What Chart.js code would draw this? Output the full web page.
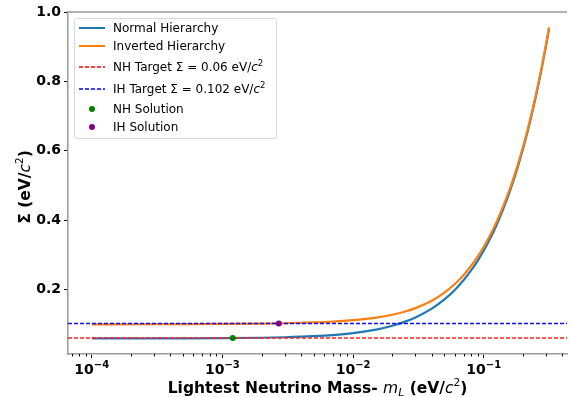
<!DOCTYPE html>
<html>
<head>
<meta charset="utf-8">
<script src="https://cdn.jsdelivr.net/npm/chart.js@4"></script>
<style>
  html, body { margin: 0; padding: 0; background: #fff; }
  #wrap { position: relative; width: 571px; height: 397px; }
  #legend { position: absolute; left: 74px; top: 18px; width: 201px; height: 119px;
    border: 1px solid #d8d8d8; border-radius: 3px; background: rgba(255,255,255,0.8);
    font: 12px "DejaVu Sans", sans-serif; color: #000; }
  .row { position: absolute; left: 0; height: 16px; line-height: 16px; white-space: nowrap; }
  .row .txt { position: absolute; left: 38px; top: 0; }
  .row svg { position: absolute; left: 3px; top: 6px; }
  .row .dot { position: absolute; left: 14px; top: 5px; width: 6px; height: 6px; border-radius: 50%; }
  sup { font-size: 8.5px; line-height: 0; }
  i { font-style: italic; }
</style>
</head>
<body>
<div id="wrap">
  <canvas id="chart" width="571" height="397"></canvas>
  <div id="legend">
    <div class="row" style="top:1px"><svg width="28" height="4"><line x1="1" y1="2" x2="27" y2="2" stroke="#1f77b4" stroke-width="2"/></svg><span class="txt">Normal Hierarchy</span></div>
    <div class="row" style="top:19px"><svg width="28" height="4"><line x1="1" y1="2" x2="27" y2="2" stroke="#ff7f0e" stroke-width="2"/></svg><span class="txt">Inverted Hierarchy</span></div>
    <div class="row" style="top:40px"><svg width="28" height="4"><line x1="1" y1="2" x2="27" y2="2" stroke="#ff0000" stroke-width="1.3" stroke-dasharray="4 2"/></svg><span class="txt">NH Target &Sigma; = 0.06 eV/<i>c</i><sup>2</sup></span></div>
    <div class="row" style="top:62px"><svg width="28" height="4"><line x1="1" y1="2" x2="27" y2="2" stroke="#0000ff" stroke-width="1.3" stroke-dasharray="4 2"/></svg><span class="txt">IH Target &Sigma; = 0.102 eV/<i>c</i><sup>2</sup></span></div>
    <div class="row" style="top:82px"><span class="dot" style="background:#008000"></span><span class="txt">NH Solution</span></div>
    <div class="row" style="top:100px"><span class="dot" style="background:#800080"></span><span class="txt">IH Solution</span></div>
  </div>
</div>
<script>
// lightest neutrino mass (eV/c^2) and sum of masses
var massL = [0.0001, 0.0002, 0.0005, 0.001, 0.002, 0.003, 0.005, 0.007, 0.01, 0.015, 0.02, 0.025,
             0.03, 0.04, 0.05, 0.06, 0.07, 0.08, 0.09, 0.1, 0.11, 0.12, 0.13, 0.15, 0.16, 0.18,
             0.2, 0.22, 0.25, 0.28, 0.3, 0.316];
var sumNH = [0.0588, 0.0589, 0.0592, 0.0597, 0.0609, 0.0623, 0.0653, 0.0686, 0.0742, 0.0845, 0.0956, 0.1074,
             0.1195, 0.1450, 0.1715, 0.1987, 0.2266, 0.2548, 0.2834, 0.3122, 0.3412, 0.3703, 0.3996, 0.4584, 0.4879, 0.5470,
             0.6063, 0.6658, 0.7551, 0.8446, 0.9043, 0.9521];
var sumIH = [0.0996, 0.0997, 0.1001, 0.1006, 0.1016, 0.1027, 0.1050, 0.1075, 0.1115, 0.1190, 0.1273, 0.1364,
             0.1462, 0.1677, 0.1910, 0.2159, 0.2413, 0.2684, 0.2957, 0.3233, 0.3515, 0.3798, 0.4084, 0.4661, 0.4951, 0.5535,
             0.6121, 0.6711, 0.7598, 0.8488, 0.9082, 0.9558];
var targetNH = 0.06;
var targetIH = 0.102;
var solNH = [0.0012, 0.06];
var solIH = [0.0027, 0.102];
var xRange = [6.58e-5, 0.4335];
var yRange = [0.014, 1.0];
var xTicks = [1e-4, 1e-3, 1e-2, 1e-1];
var xTickExp = ['\u22124', '\u22123', '\u22122', '\u22121'];
var yTicks = [0.2, 0.4, 0.6, 0.8, 1.0];

function pts(xs, ys) {
  return xs.map(function(x, i) { return {x: x, y: ys[i]}; });
}

var spine = '#999999';

// draws text made of several font runs, centred on (cx, cy)
function drawRuns(ctx, runs, cx, cy, rot) {
  ctx.save();
  ctx.translate(cx, cy);
  if (rot) ctx.rotate(rot);
  ctx.textBaseline = 'alphabetic';
  ctx.textAlign = 'left';
  var total = 0;
  runs.forEach(function(r) { ctx.font = r.font; total += ctx.measureText(r.t).width; });
  var x = -total / 2;
  runs.forEach(function(r) {
    ctx.font = r.font;
    ctx.fillStyle = '#000';
    ctx.fillText(r.t, x, r.dy || 0);
    x += ctx.measureText(r.t).width;
  });
  ctx.restore();
}

var decor = {
  id: 'decor',
  afterDraw: function(chart) {
    var ctx = chart.ctx, a = chart.chartArea, xs = chart.scales.x;
    ctx.save();
    // top spine
    ctx.strokeStyle = spine;
    ctx.lineWidth = 1.5;
    ctx.beginPath();
    ctx.moveTo(a.left, a.top);
    ctx.lineTo(a.right, a.top);
    ctx.stroke();
    // minor log ticks
    ctx.strokeStyle = '#000';
    ctx.lineWidth = 1;
    ctx.beginPath();
    for (var d = -5; d <= 0; d++) {
      for (var k = 2; k <= 9; k++) {
        var v = k * Math.pow(10, d);
        if (v < xRange[0] || v > xRange[1]) continue;
        var px = Math.round(xs.getPixelForValue(v)) + 0.5;
        ctx.moveTo(px, a.bottom);
        ctx.lineTo(px, a.bottom + 2.5);
      }
    }
    ctx.stroke();
    ctx.restore();

    // x tick labels 10^n
    xTicks.forEach(function(v, i) {
      drawRuns(ctx, [
        {t: '10', font: 'bold 14px "DejaVu Sans"'},
        {t: xTickExp[i], font: 'bold 10px "DejaVu Sans"', dy: -6}
      ], xs.getPixelForValue(v), 374, 0);
    });

    var B = 'bold 15.5px "DejaVu Sans"', I = 'italic 15.5px "DejaVu Sans"',
        Is = 'italic 11px "DejaVu Sans"', S = '10.5px "DejaVu Sans"';
    drawRuns(ctx, [
      {t: 'Lightest Neutrino Mass- ', font: B},
      {t: 'm', font: I},
      {t: 'L', font: Is, dy: 3},
      {t: ' (eV/', font: B},
      {t: 'c', font: I},
      {t: '2', font: S, dy: -7},
      {t: ')', font: B}
    ], (a.left + a.right) / 2, 393, 0);
    drawRuns(ctx, [
      {t: '\u03A3 (eV/', font: B},
      {t: 'c', font: I},
      {t: '2', font: S, dy: -7},
      {t: ')', font: B}
    ], 30, (a.top + a.bottom) / 2 + 4, -Math.PI / 2);
  }
};

new Chart(document.getElementById('chart'), {
  type: 'scatter',
  data: {
    datasets: [
      {label: 'Normal Hierarchy', data: pts(massL, sumNH), showLine: true, borderColor: '#1f77b4',
       borderWidth: 2.2, pointRadius: 0, cubicInterpolationMode: 'monotone', order: 5},
      {label: 'Inverted Hierarchy', data: pts(massL, sumIH), showLine: true, borderColor: '#ff7f0e',
       borderWidth: 2.2, pointRadius: 0, cubicInterpolationMode: 'monotone', order: 4},
      {label: 'NH Target', data: pts(xRange, [targetNH, targetNH]), showLine: true, borderColor: '#ff2020',
       borderWidth: 1.5, borderDash: [4, 2], pointRadius: 0, order: 3},
      {label: 'IH Target', data: pts(xRange, [targetIH, targetIH]), showLine: true, borderColor: '#1010ee',
       borderWidth: 1.6, borderDash: [4, 2], pointRadius: 0, order: 2},
      {label: 'NH Solution', data: [{x: solNH[0], y: solNH[1]}], backgroundColor: '#008000',
       borderWidth: 0, pointRadius: 3, order: 1},
      {label: 'IH Solution', data: [{x: solIH[0], y: solIH[1]}], backgroundColor: '#800080',
       borderWidth: 0, pointRadius: 3, order: 0}
    ]
  },
  options: {
    responsive: false,
    animation: false,
    layout: {padding: {top: 12, right: 0, left: 0, bottom: 0}},
    plugins: {legend: {display: false}, tooltip: {enabled: false}},
    scales: {
      x: {
        type: 'logarithmic', min: xRange[0], max: xRange[1],
        afterBuildTicks: function(s) { s.ticks = xTicks.map(function(v) { return {value: v}; }); },
        afterFit: function(s) { s.height = 43; },
        grid: {drawOnChartArea: false, drawTicks: true, tickLength: 4, tickColor: '#000', tickWidth: 1},
        border: {color: spine, width: 1.5},
        ticks: {
          color: '#000', padding: 2, maxRotation: 0, autoSkip: false,
          font: {family: 'DejaVu Sans', weight: 'bold', size: 14},
          callback: function() { return ''; }
        }
      },
      y: {
        min: yRange[0], max: yRange[1],
        afterBuildTicks: function(s) { s.ticks = yTicks.map(function(v) { return {value: v}; }); },
        afterFit: function(s) { s.width = 68; },
        grid: {drawOnChartArea: false, drawTicks: true, tickLength: 4, tickColor: '#000', tickWidth: 1},
        border: {color: spine, width: 1.5},
        ticks: {
          color: '#000', padding: 3,
          font: {family: 'DejaVu Sans', weight: 'bold', size: 14},
          callback: function(v) { return v.toFixed(1); }
        }
      }
    }
  },
  plugins: [decor]
});
</script>
</body>
</html>
